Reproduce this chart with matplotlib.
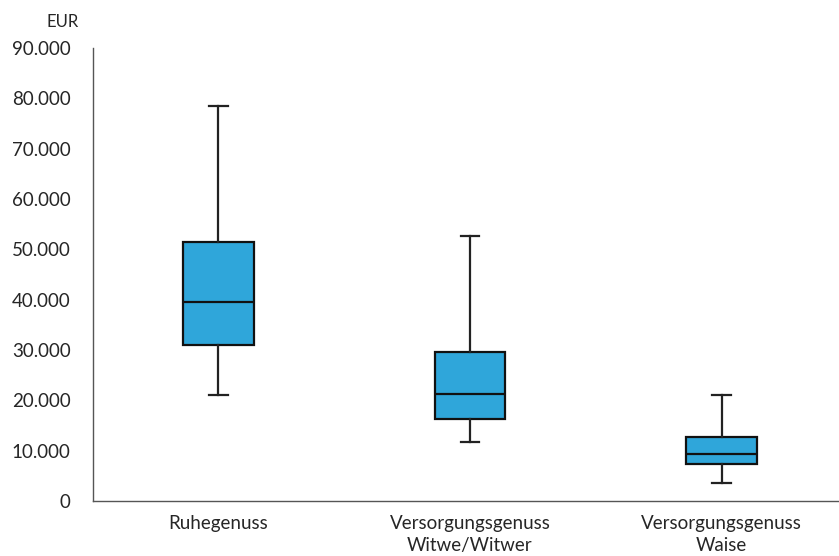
import matplotlib
matplotlib.use("Agg")
import matplotlib.pyplot as plt

categories = ["Ruhegenuss", "Versorgungsgenuss\nWitwe/Witwer", "Versorgungsgenuss\nWaise"]
whislo = [21000, 11800, 3600]
q1 = [30900, 16300, 7350]
med = [39600, 21300, 9300]
q3 = [51500, 29600, 12800]
whishi = [78500, 52700, 21100]
yticks = [0, 10000, 20000, 30000, 40000, 50000, 60000, 70000, 80000, 90000]
ytick_labels = ["0", "10.000", "20.000", "30.000", "40.000", "50.000", "60.000", "70.000", "80.000", "90.000"]

plt.rcParams['font.family'] = ['Lato', 'DejaVu Sans']
txt = '#262626'

fig = plt.figure(figsize=(8.39, 5.56), dpi=100)
ax = fig.add_axes([92.7/839, (556-501)/556, 1-92.7/839, (501-48)/556])

stats = []
for i, c in enumerate(categories):
    stats.append(dict(label=c, whislo=whislo[i], q1=q1[i], med=med[i], q3=q3[i], whishi=whishi[i], fliers=[]))

ax.bxp(stats, positions=range(len(categories)), widths=0.281, capwidths=0.075,
       patch_artist=True, showfliers=False,
       boxprops=dict(facecolor='#2FA6DA', edgecolor='#111111', linewidth=1.6),
       medianprops=dict(color='#111111', linewidth=1.6),
       whiskerprops=dict(color='#222222', linewidth=1.6),
       capprops=dict(color='#222222', linewidth=1.6))

ax.set_xlim(-0.5, 2.467)
ax.set_ylim(0, 90000)
ax.set_yticks(yticks)
ax.set_yticklabels(ytick_labels)
ax.set_xticks(range(len(categories)))
ax.set_xticklabels(categories, linespacing=1.4)
ax.tick_params(axis='y', length=0, pad=16, labelsize=13.5, labelcolor=txt)
ax.tick_params(axis='x', length=0, pad=10, labelsize=13.5, labelcolor=txt)
for s in ['top', 'right']:
    ax.spines[s].set_visible(False)
for s in ['left', 'bottom']:
    ax.spines[s].set_color('#555555')
    ax.spines[s].set_linewidth(1.0)

fig.text(47/839, 1 - 22/556, "EUR", fontsize=12, color=txt, ha='left', va='center')

fig.savefig("out.png", dpi=100)
